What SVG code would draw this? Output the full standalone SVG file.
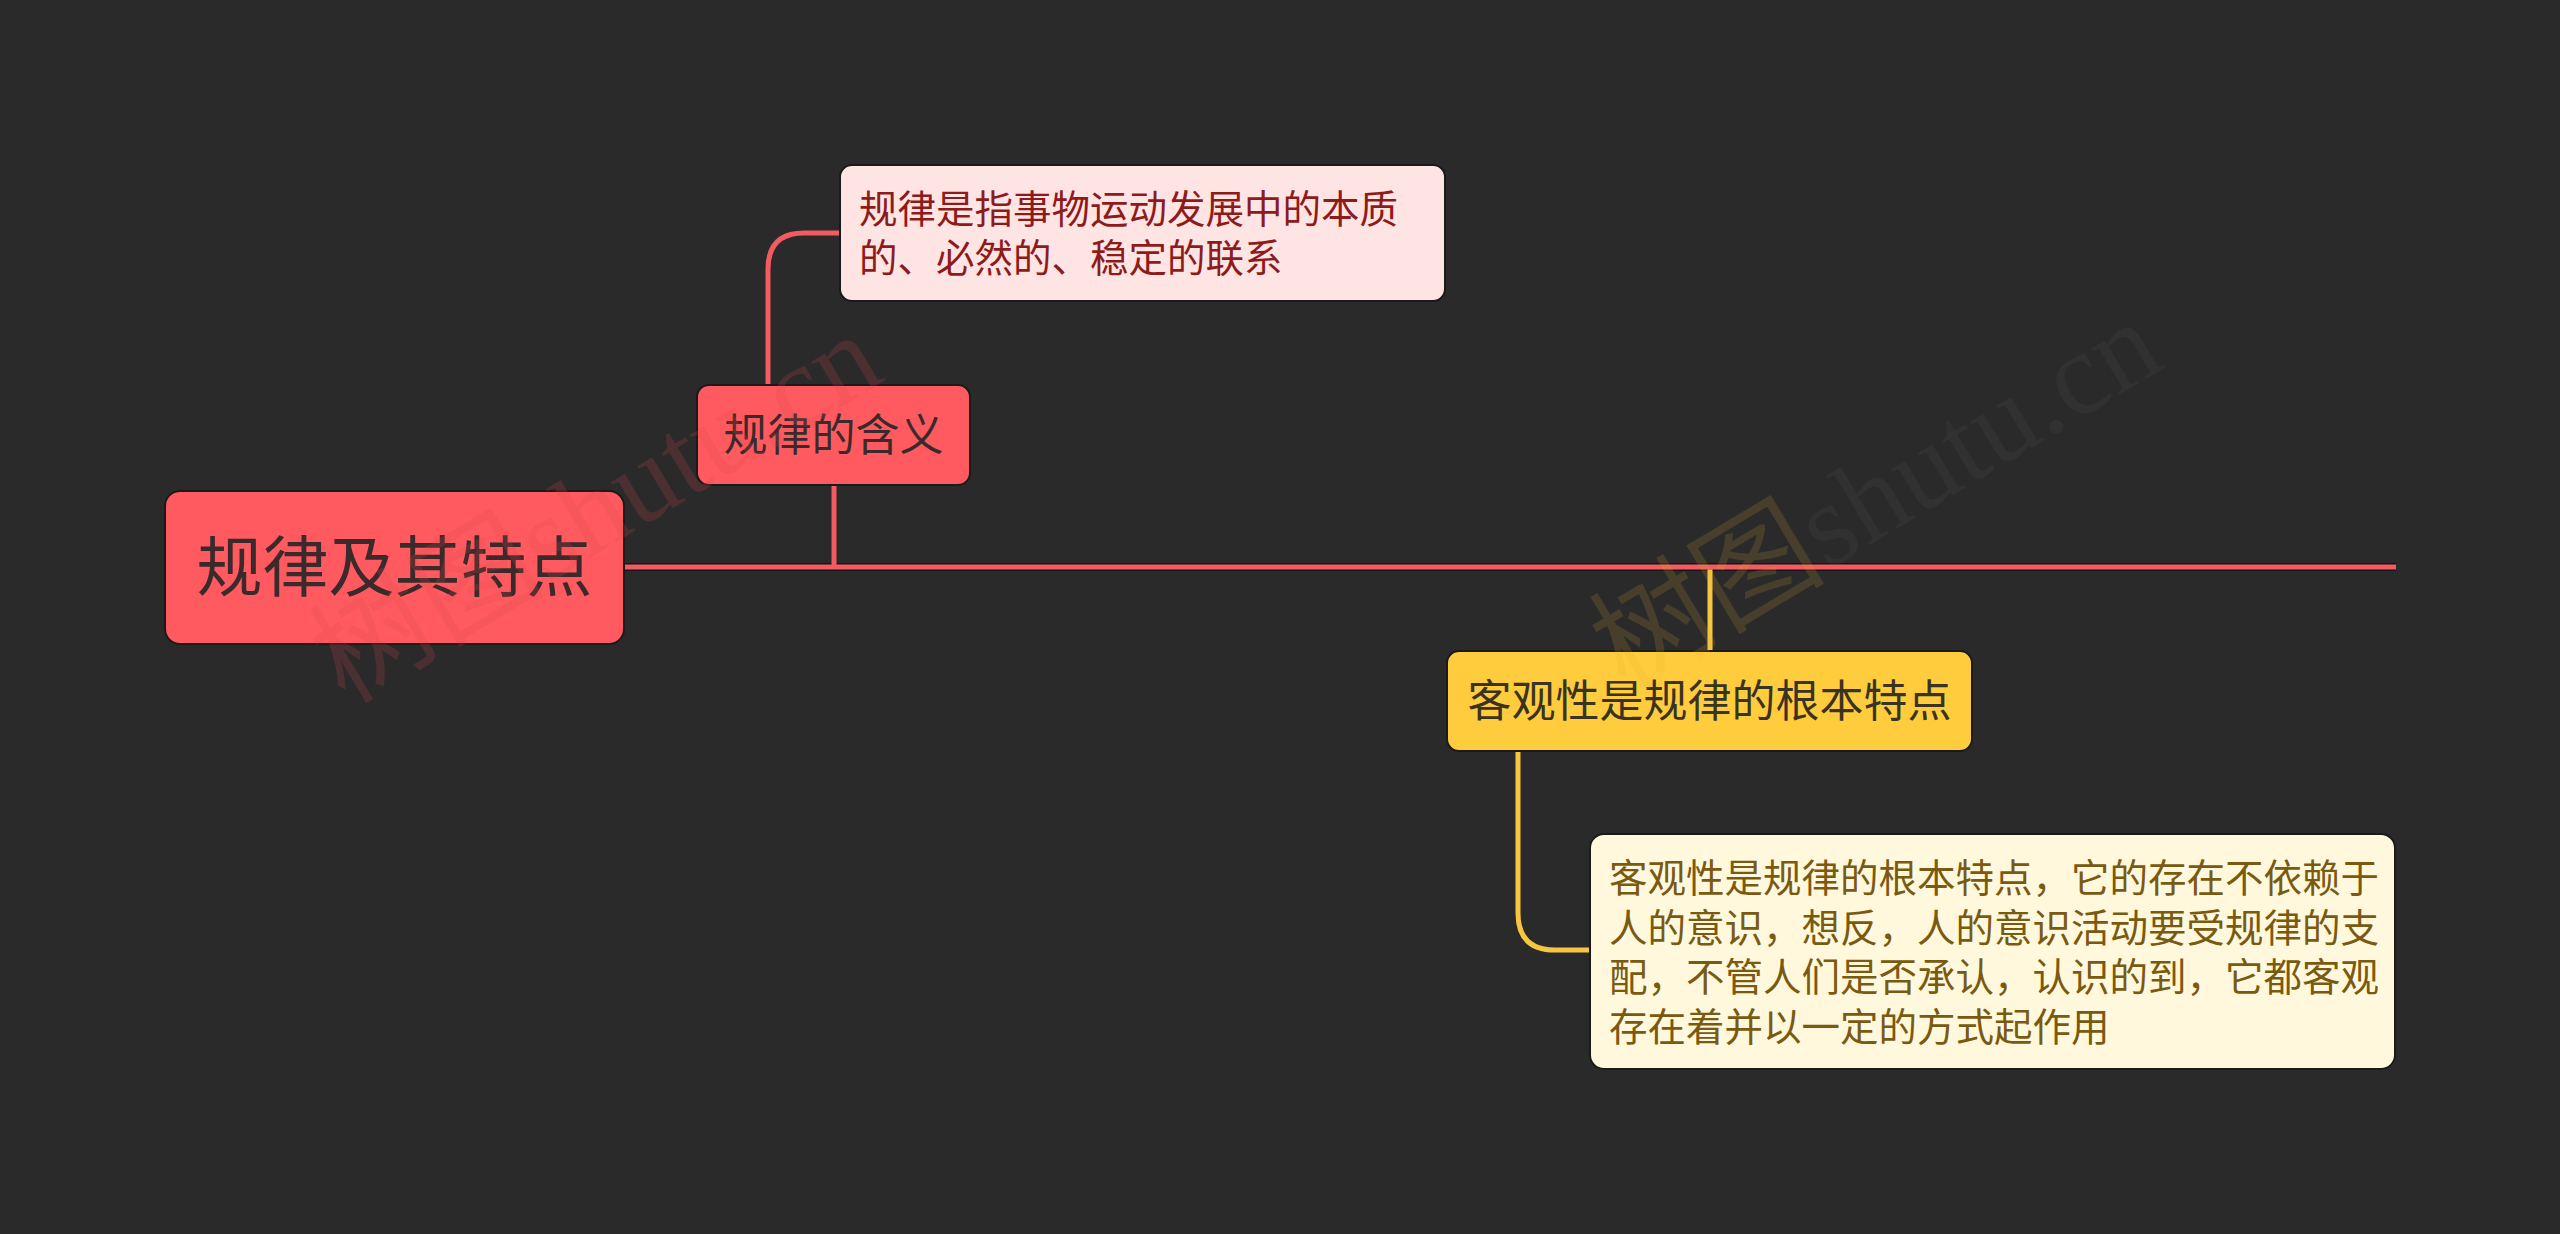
<svg xmlns="http://www.w3.org/2000/svg" width="2560" height="1234" viewBox="0 0 2560 1234">
<style>
.cjk{font-family:"Noto Sans CJK SC","Noto Sans",sans-serif}
.edge{fill:none;stroke-width:5;stroke-linecap:butt}
.edge-shadow{fill:none;stroke:#161616;stroke-width:8}
.red{stroke:#f45b60}
.yel{stroke:#f7c640}
.box{stroke:#1a1a1a;stroke-width:2}
.wm{font-family:"Liberation Serif","Noto Sans CJK SC",serif;font-size:118px}
</style>
<rect width="2560" height="1234" fill="#2a2a2a"/>
<g id="connectors">
<path class="edge-shadow" d="M624 567 H2396"/>
<path class="edge red" d="M624 567 H2396"/>
<path class="edge red" d="M834 485 V567"/>
<path class="edge red" d="M768 384 V269 Q768 233 804 233 H840"/>
<path class="edge yel" d="M1710 569.5 V651"/>
<path class="edge yel" d="M1518 751 V913 Q1518 950 1555 950 H1590"/>
</g>
<g id="root">
<rect class="box" x="165" y="491" width="459" height="153" rx="15" fill="#ff5a5f"/>
<text class="cjk" x="394.5" y="591" font-size="66" text-anchor="middle" fill="#3a2a2b">规律及其特点</text>
</g>
<g id="n-meaning">
<rect class="box" x="697" y="385" width="273" height="100" rx="12" fill="#ff5a5f"/>
<text class="cjk" x="833.5" y="451" font-size="44" text-anchor="middle" fill="#3a2a2b">规律的含义</text>
</g>
<g id="n-definition">
<rect class="box" x="840" y="165" width="605" height="136" rx="12" fill="#ffe4e4"/>
<text class="cjk" font-size="38.5" fill="#8e1b1b"><tspan x="859" y="223">规律是指事物运动发展中的本质</tspan><tspan x="859" y="272">的、必然的、稳定的联系</tspan></text>
</g>
<g id="n-objectivity">
<rect class="box" x="1447" y="651" width="525" height="100" rx="12" fill="#ffcc3d"/>
<text class="cjk" x="1709.5" y="717" font-size="44" text-anchor="middle" fill="#3a3322">客观性是规律的根本特点</text>
</g>
<g id="n-detail">
<rect class="box" x="1590" y="834" width="805" height="235" rx="14" fill="#fff8dc"/>
<text class="cjk" font-size="38.5" fill="#7a5a10"><tspan x="1609" y="892">客观性是规律的根本特点，它的存在不依赖于</tspan><tspan x="1609" y="942">人的意识，想反，人的意识活动要受规律的支</tspan><tspan x="1609" y="991">配，不管人们是否承认，认识的到，它都客观</tspan><tspan x="1609" y="1041">存在着并以一定的方式起作用</tspan></text>
</g>
<g id="watermarks">
<text class="wm" x="345" y="705" transform="rotate(-31 345 705)" fill="#d8474c" fill-opacity="0.2">树图shutu.cn</text>
<text class="wm" x="1625" y="692" transform="rotate(-31 1625 692)" fill="#8a8a8a" fill-opacity="0.07"><tspan fill="#e0b030" fill-opacity="0.16">树图</tspan>shutu.cn</text>
</g>
</svg>
